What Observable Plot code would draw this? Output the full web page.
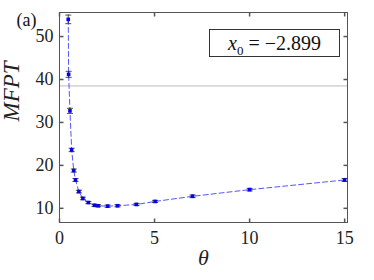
<!DOCTYPE html>
<html><head><meta charset="utf-8">
<script src="https://cdn.jsdelivr.net/npm/d3@7"></script>
<script src="https://cdn.jsdelivr.net/npm/@observablehq/plot@0.6"></script>
<style>
body{margin:0;background:#fff;}
#wrap{position:relative;width:374px;height:280px;font-family:"Liberation Serif","Times New Roman","DejaVu Serif",serif;}
#wrap svg text{font-family:"Liberation Serif","Times New Roman","DejaVu Serif",serif;}
#box{position:absolute;left:209px;top:29px;width:129px;height:26px;border:1px solid #333;background:#fff;
 font-size:20px;line-height:26px;text-align:center;color:#111;box-sizing:content-box;}
</style></head><body>
<div id="wrap"><div id="box"><i>x</i><sub style="font-size:13px">0</sub> = −2.899</div></div>
<script>
const theta = [0.46, 0.48, 0.55, 0.64, 0.75, 0.84, 1.02, 1.23, 1.52, 1.84, 2.03, 2.53, 3.05, 4.05, 5.03, 7.0, 10.0, 15.0];
const mfpt  = [54.0, 41.2, 32.7, 23.6, 18.8, 16.6, 13.9, 12.3, 11.35, 10.7, 10.6, 10.5, 10.6, 10.9, 11.6, 12.8, 14.35, 16.6];
const err   = [1.0, 0.7, 0.6, 0.4, 0.35, 0.35, 0.3, 0.3, 0.25, 0.25, 0.25, 0.25, 0.25, 0.25, 0.25, 0.3, 0.3, 0.35];
const xTicks = [0, 5, 10, 15];
const yTicks = [10, 20, 30, 40, 50];
const refLine = [38.5];
const xDomain = [0, 15.15];
const yDomain = [6.7, 55.6];

const data = theta.map((t, i) => ({t, m: mfpt[i], lo: mfpt[i] - err[i], hi: mfpt[i] + err[i]}));
const sym = (dx, dy) => ({draw(ctx){ ctx.moveTo(0,0); ctx.lineTo(dx,dy); }});
const cap = {draw(ctx){ ctx.moveTo(-3,0); ctx.lineTo(3,0); }};
const sq = {draw(ctx){ ctx.rect(-1.8,-1.8,3.6,3.6); }};
const axisColor = "#555";
const serif = "'Liberation Serif', 'Times New Roman', 'DejaVu Serif', serif";

const chart = Plot.plot({
  width: 374, height: 280,
  marginLeft: 59, marginRight: 27, marginTop: 12, marginBottom: 58,
  style: {fontFamily: serif, fontSize: "18px", color: "#222", background: "transparent"},
  x: {domain: xDomain},
  y: {domain: yDomain},
  marks: [
    Plot.ruleY(refLine, {stroke: "#bbb", strokeWidth: 1}),
    Plot.frame({stroke: axisColor, strokeWidth: 1}),
    Plot.dot(xTicks, {x: d => d, y: yDomain[0], symbol: sym(0,-4), stroke: axisColor, fill: "none"}),
    Plot.dot(xTicks, {x: d => d, y: yDomain[1], symbol: sym(0,4), stroke: axisColor, fill: "none"}),
    Plot.dot(yTicks, {y: d => d, x: xDomain[0], symbol: sym(4,0), stroke: axisColor, fill: "none"}),
    Plot.dot(yTicks, {y: d => d, x: xDomain[1], symbol: sym(-4,0), stroke: axisColor, fill: "none"}),
    Plot.axisX(xTicks, {tickSize: 0, tickPadding: 9, label: null, fontSize: 18}),
    Plot.axisY(yTicks, {tickSize: 0, tickPadding: 6, label: null, fontSize: 18}),
    Plot.line(data, {x: "t", y: "m", stroke: "#5555ff", strokeWidth: 1, strokeDasharray: "5,3"}),
    Plot.ruleX(data, {x: "t", y1: "lo", y2: "hi", stroke: "#222", strokeWidth: 0.8}),
    Plot.dot(data, {x: "t", y: "lo", symbol: cap, stroke: "#222", strokeWidth: 0.8, fill: "none"}),
    Plot.dot(data, {x: "t", y: "hi", symbol: cap, stroke: "#222", strokeWidth: 0.8, fill: "none"}),
    Plot.dot(data, {x: "t", y: "m", symbol: sq, fill: "#0000ee", stroke: "none"}),
    Plot.text(["θ"], {frameAnchor: "bottom", dy: 42, fontStyle: "italic", fontSize: 22, fill: "#222"}),
    Plot.text(["MFPT"], {frameAnchor: "left", dx: -48, dy: 4, rotate: -90, fontStyle: "italic", fontSize: 23, fill: "#222", letterSpacing: "5px"}),
    Plot.text(["(a)"], {frameAnchor: "top-left", dx: -43, dy: 1, fontSize: 18, fill: "#111"})
  ]
});
document.getElementById("wrap").prepend(chart);
</script>
</body></html>
